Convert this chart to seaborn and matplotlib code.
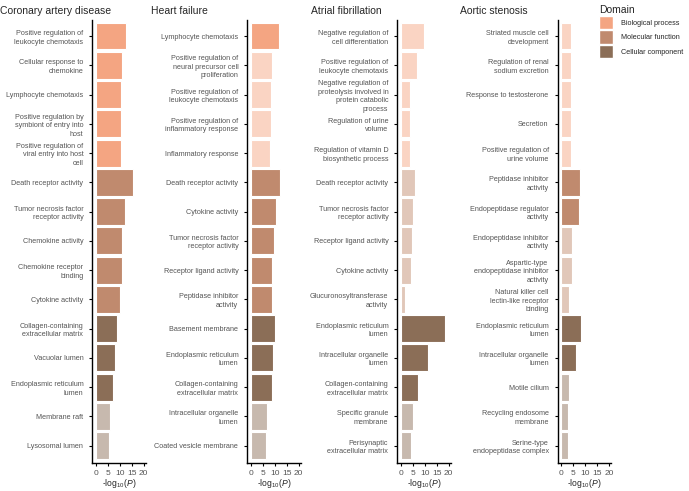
import numpy as np
import pandas as pd
import matplotlib
matplotlib.use("Agg")
import matplotlib.pyplot as plt
import matplotlib.colors as mcolors
from matplotlib.patches import Patch
import seaborn as sns

sns.set_style("ticks")
plt.rcParams["font.family"] = ["Liberation Sans", "DejaVu Sans"]
plt.rcParams["mathtext.fontset"] = "custom"
plt.rcParams["mathtext.rm"] = "Liberation Sans"
plt.rcParams["mathtext.it"] = "Liberation Sans:italic"

# ---- data ----------------------------------------------------------------
titles = ["Coronary artery disease", "Heart failure", "Atrial fibrillation", "Aortic stenosis"]

# domain of the 15 rows (same in every panel)
domains = ["Biological process"] * 5 + ["Molecular function"] * 5 + ["Cellular component"] * 5

cad_terms = ["Positive regulation of\nleukocyte chemotaxis", "Cellular response to\nchemokine",
             "Lymphocyte chemotaxis", "Positive regulation by\nsymbiont of entry into\nhost",
             "Positive regulation of\nviral entry into host\ncell", "Death receptor activity",
             "Tumor necrosis factor\nreceptor activity", "Chemokine activity",
             "Chemokine receptor\nbinding", "Cytokine activity",
             "Collagen-containing\nextracellular matrix", "Vacuolar lumen",
             "Endoplasmic reticulum\nlumen", "Membrane raft", "Lysosomal lumen"]
cad_logp = [12.8, 10.8, 10.5, 10.3, 10.3, 15.6, 12.1, 10.8, 10.8, 10.0, 8.9, 7.9, 7.2, 5.9, 5.6]
cad_sig = [1, 1, 1, 1, 1, 1, 1, 1, 1, 1, 1, 1, 1, 0, 0]

hf_terms = ["Lymphocyte chemotaxis", "Positive regulation of\nneural precursor cell\nproliferation",
            "Positive regulation of\nleukocyte chemotaxis", "Positive regulation of\ninflammatory response",
            "Inflammatory response", "Death receptor activity", "Cytokine activity",
            "Tumor necrosis factor\nreceptor activity", "Receptor ligand activity",
            "Peptidase inhibitor\nactivity", "Basement membrane", "Endoplasmic reticulum\nlumen",
            "Collagen-containing\nextracellular matrix", "Intracellular organelle\nlumen",
            "Coated vesicle membrane"]
hf_logp = [11.7, 8.8, 8.4, 8.4, 8.0, 12.1, 10.5, 9.6, 8.8, 8.8, 10.0, 9.2, 8.8, 6.8, 6.3]
hf_sig = [1, 0, 0, 0, 0, 1, 1, 1, 1, 1, 1, 1, 1, 0, 0]

af_terms = ["Negative regulation of\ncell differentiation", "Positive regulation of\nleukocyte chemotaxis",
            "Negative regulation of\nproteolysis involved in\nprotein catabolic\nprocess",
            "Regulation of urine\nvolume", "Regulation of vitamin D\nbiosynthetic process",
            "Death receptor activity", "Tumor necrosis factor\nreceptor activity",
            "Receptor ligand activity", "Cytokine activity", "Glucuronosyltransferase\nactivity",
            "Endoplasmic reticulum\nlumen", "Intracellular organelle\nlumen",
            "Collagen-containing\nextracellular matrix", "Specific granule\nmembrane",
            "Perisynaptic\nextracellular matrix"]
af_logp = [9.6, 6.8, 3.8, 3.8, 3.8, 6.1, 5.2, 4.6, 4.2, 1.7, 18.5, 11.4, 7.2, 5.2, 4.1]
af_sig = [0, 0, 0, 0, 0, 0, 0, 0, 0, 0, 1, 1, 1, 0, 0]

as_terms = ["Striated muscle cell\ndevelopment", "Regulation of renal\nsodium excretion",
            "Response to testosterone", "Secretion", "Positive regulation of\nurine volume",
            "Peptidase inhibitor\nactivity", "Endopeptidase regulator\nactivity",
            "Endopeptidase inhibitor\nactivity", "Aspartic-type\nendopeptidase inhibitor\nactivity",
            "Natural killer cell\nlectin-like receptor\nbinding", "Endoplasmic reticulum\nlumen",
            "Intracellular organelle\nlumen", "Motile cilium", "Recycling endosome\nmembrane",
            "Serine-type\nendopeptidase complex"]
as_logp = [4.2, 4.2, 4.2, 4.2, 4.2, 7.8, 7.5, 4.3, 4.3, 3.1, 8.4, 6.0, 3.1, 3.0, 2.8]
as_sig = [0, 0, 0, 0, 0, 1, 1, 0, 0, 0, 1, 1, 0, 0, 0]

panels = [(cad_terms, cad_logp, cad_sig), (hf_terms, hf_logp, hf_sig),
          (af_terms, af_logp, af_sig), (as_terms, as_logp, as_sig)]

domain_colors = {"Biological process": "#F4A582",
                 "Molecular function": "#C08A6E",
                 "Cellular component": "#8B6E57"}


def lighten(c, a=0.5):
    rgb = np.array(mcolors.to_rgb(c))
    return tuple(a * rgb + (1 - a) * np.ones(3))


palette = {}
for d, c in domain_colors.items():
    palette[d + "|1"] = mcolors.to_rgb(c)
    palette[d + "|0"] = lighten(c, 0.48)

# ---- figure --------------------------------------------------------------
fig = plt.figure(figsize=(6.89, 4.91), dpi=100)
lefts = [0.134, 0.359, 0.5767, 0.8094]
title_x = [0.0, 0.219, 0.451, 0.667]
bottom, height, width = 0.0564, 0.903, 0.078

for i, (terms, logp, sig) in enumerate(panels):
    ax = fig.add_axes([lefts[i], bottom, width, height])
    df = pd.DataFrame({"term": terms, "logp": logp,
                       "shade": [d + "|" + str(s) for d, s in zip(domains, sig)]})
    sns.barplot(data=df, x="logp", y="term", hue="shade", palette=palette,
                dodge=False, width=0.92, edgecolor="white", linewidth=0.8,
                saturation=1, legend=False, ax=ax)
    ax.set_xlim(-1.5, 21)
    ax.set_ylim(14.6, -0.55)
    ax.set_xticks([0, 5, 10, 15, 20])
    ax.set_ylabel("")
    ax.set_xlabel(r"-log$_{10}$($P$)", fontsize=6.2, labelpad=0.5)
    ax.tick_params(axis="y", labelsize=5.2, colors="black", labelcolor="#555555",
                   length=2.5, width=0.8, pad=4)
    ax.tick_params(axis="x", labelsize=6, colors="black", labelcolor="#555555",
                   length=2.5, width=0.8, pad=2)
    for lab in ax.get_yticklabels():
        lab.set_multialignment("right")
        lab.set_linespacing(1.3)
    sns.despine(ax=ax)
    for s in ["left", "bottom"]:
        ax.spines[s].set_linewidth(1.0)
        ax.spines[s].set_color("black")
    fig.text(title_x[i], 0.971, titles[i], fontsize=7.5, ha="left", va="baseline")

handles = [Patch(facecolor=c, edgecolor="white") for c in domain_colors.values()]
leg = fig.legend(handles, list(domain_colors.keys()), title="Domain", loc="upper left",
                 bbox_to_anchor=(0.862, 1.0), frameon=False, fontsize=5.2,
                 title_fontsize=7.5, handlelength=1.9, handleheight=2.5,
                 handletextpad=1.1, labelspacing=0.12, borderaxespad=0.3)
leg._legend_box.align = "left"

fig.savefig("out.png", dpi=100)
